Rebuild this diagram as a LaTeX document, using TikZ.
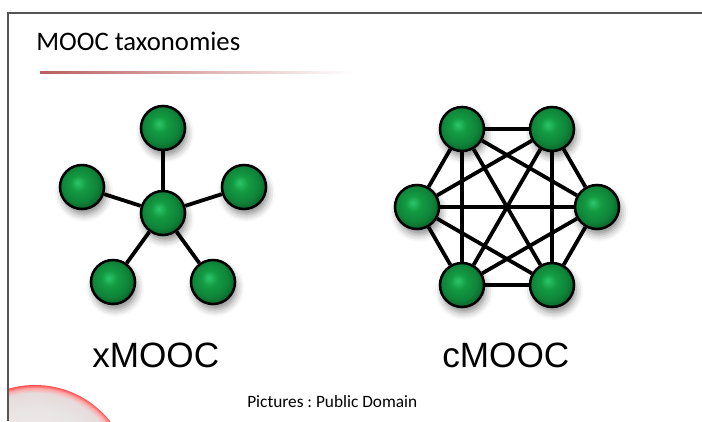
\documentclass[tikz,border=0pt]{standalone}
\usepackage{fontspec}
\setmainfont{Carlito}
\newfontfamily\labelfont{Liberation Sans}
\usetikzlibrary{shadows.blur,backgrounds}

\definecolor{ballhi}{HTML}{2CC66A}
\definecolor{ballmid}{HTML}{139B42}
\definecolor{balldark}{HTML}{075A27}
\definecolor{framegray}{HTML}{555555}
\pgfdeclareradialshading{greenball}{\pgfpoint{-5bp}{5bp}}{color(0bp)=(ballhi); color(9bp)=(ballmid); color(20bp)=(ballmid!65!balldark); color(30bp)=(balldark); color(50bp)=(balldark)}
\pgfdeclareradialshading{redsphere}{\pgfpoint{0bp}{0bp}}{color(0bp)=(red!6); color(18bp)=(red!10!gray!18); color(23bp)=(red!18!gray!24); color(24.2bp)=(red!35); color(25bp)=(red!70); color(50bp)=(red!70)}

\begin{document}
\frenchspacing
\begin{tikzpicture}[x=0.025cm,y=-0.025cm,main node/.style={circle,draw=black,line width=1.8pt,minimum size=1.1cm,inner sep=0pt,shading=greenball,blur shadow={shadow xshift=1.5pt,shadow yshift=-4pt,shadow blur radius=5pt,shadow opacity=45}}]
\tikzstyle{link} = [draw,line width=2.7pt,black]
\tikzstyle{big label} = [font=\labelfont\fontsize{25}{30}\selectfont,anchor=base west,inner sep=0pt]

\useasboundingbox (0,0) rectangle (702,421);

% Slide frame
\coordinate (framebottom) at (8,421);
\coordinate (framecorner) at (8,13);
\coordinate (frameright) at (702,13);
\draw[framegray,line width=1pt] (framebottom) -- (framecorner) -- (frameright);

\node[anchor=base west,inner sep=0pt,font=\fontsize{19}{23}\selectfont] (title) at (36,50) {MOOC taxonomies};
\shade[left color=red!40!gray!90,right color=white] (40,71) rectangle (352,73.5);

% Red sphere in the corner
\begin{scope}
\clip (9,0) rectangle (702,421);
\shade[shading=redsphere] (35,481) circle (96);
\end{scope}

% xMOOC
\node[main node] at (163,213) (xc) {};
\node[main node] at (163,128) (xt) {};
\node[main node] at (82,187) (xl) {};
\node[main node] at (244,187) (xr) {};
\node[main node] at (113,282) (xbl) {};
\node[main node] at (213,282) (xbr) {};

% cMOOC
\node[main node] at (462,129) (ctl) {};
\node[main node] at (552,129) (ctr) {};
\node[main node] at (417,207) (cl) {};
\node[main node] at (597,207) (cr) {};
\node[main node] at (462,285) (cbl) {};
\node[main node] at (552,285) (cbr) {};

\begin{pgfonlayer}{background}
\draw[link] (xc) -- (xt);
\draw[link] (xc) -- (xl);
\draw[link] (xc) -- (xr);
\draw[link] (xc) -- (xbl);
\draw[link] (xc) -- (xbr);

\draw[link] (ctl) -- (ctr);
\draw[link] (ctl) -- (cl);
\draw[link] (ctl) -- (cr);
\draw[link] (ctl) -- (cbl);
\draw[link] (ctl) -- (cbr);
\draw[link] (ctr) -- (cl);
\draw[link] (ctr) -- (cr);
\draw[link] (ctr) -- (cbl);
\draw[link] (ctr) -- (cbr);
\draw[link] (cl) -- (cr);
\draw[link] (cl) -- (cbl);
\draw[link] (cl) -- (cbr);
\draw[link] (cr) -- (cbl);
\draw[link] (cr) -- (cbr);
\draw[link] (cbl) -- (cbr);
\end{pgfonlayer}

\node[big label] (xname) at (92,367) {xMOOC};
\node[big label] (cname) at (442,367) {cMOOC};

\node[anchor=base west,inner sep=0pt,font=\fontsize{12.3}{15}\selectfont] (credit) at (247,407) {Pictures : Public Domain};

\end{tikzpicture}
\end{document}
